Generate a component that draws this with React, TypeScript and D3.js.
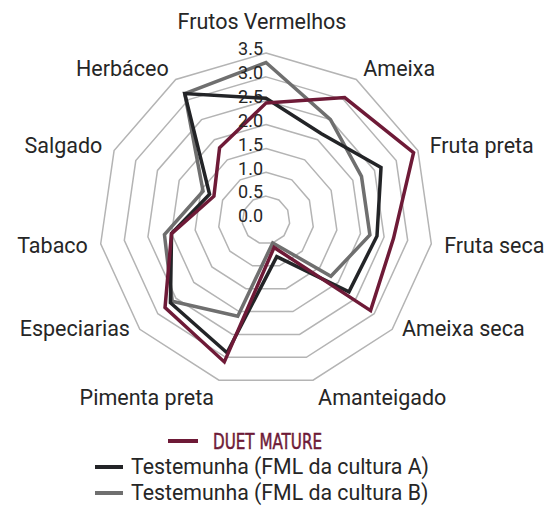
import React, { useRef, useEffect } from "react";
import * as d3 from "d3";

const categories = [
  "Frutos Vermelhos",
  "Ameixa",
  "Fruta preta",
  "Fruta seca",
  "Ameixa seca",
  "Amanteigado",
  "Pimenta preta",
  "Especiarias",
  "Tabaco",
  "Salgado",
  "Herbáceo",
];

const duetMature = [2.45, 3.05, 3.4, 2.7, 2.9, 0.6, 3.1, 2.8, 2.0, 1.2, 1.8];
const testemunhaA = [2.55, 2.15, 2.65, 2.35, 2.3, 0.8, 2.9, 2.65, 2.0, 1.3, 3.15];
const testemunhaB = [3.3, 2.5, 2.2, 2.2, 1.8, 0.5, 2.1, 2.6, 2.15, 1.45, 3.15];

const tickValues = [0, 0.5, 1, 1.5, 2, 2.5, 3, 3.5];

const seriesNames = [
  "DUET MATURE",
  "Testemunha (FML da cultura A)",
  "Testemunha (FML da cultura B)",
];

const App = () => {
  const svgRef = useRef<SVGSVGElement>(null);

  useEffect(() => {
    if (!svgRef.current) return;

    const width = 547;
    const height = 510;
    const cx = 266;
    const cy = 220;
    const font = "Roboto, 'Noto Sans', sans-serif";
    const textColor = "#262626";

    const svg = d3
      .select(svgRef.current)
      .attr("width", width)
      .attr("height", height);

    svg.selectAll("*").remove();

    const r = d3.scaleLinear().domain([0, 3.5]).range([0, 167]);
    const angle = d3
      .scaleLinear()
      .domain([0, categories.length])
      .range([0, 2 * Math.PI]);

    const g = svg.append("g").attr("transform", `translate(${cx},${cy})`);

    // Grid rings
    const ring = d3
      .lineRadial<number>()
      .angle((_, i) => angle(i))
      .radius((d) => r(d))
      .curve(d3.curveLinearClosed);

    tickValues
      .filter((t) => t > 0)
      .forEach((t) => {
        g.append("path")
          .attr("d", ring(categories.map(() => t)))
          .attr("fill", "none")
          .attr("stroke", "#b4b4b4")
          .attr("stroke-width", 1.5);
      });

    // Series
    const series = [
      { name: seriesNames[2], values: testemunhaB, color: "#6f6f6f" },
      { name: seriesNames[1], values: testemunhaA, color: "#232427" },
      { name: seriesNames[0], values: duetMature, color: "#6e1a37" },
    ];

    series.forEach((s) => {
      g.append("path")
        .attr("d", ring(s.values))
        .attr("fill", "none")
        .attr("stroke", s.color)
        .attr("stroke-width", 3.5)
        .attr("stroke-linejoin", "miter");
    });

    // Tick labels
    g.selectAll(".tick-label")
      .data(tickValues)
      .join("text")
      .attr("x", -3)
      .attr("y", (d) => -r(d) - 4)
      .attr("dy", "0.35em")
      .attr("text-anchor", "end")
      .style("font-family", font)
      .style("font-size", "18px")
      .style("fill", textColor)
      .text((d) => d3.format(".1f")(d));

    // Category labels
    categories.forEach((c, i) => {
      const a = angle(i);
      const sin = Math.sin(a);
      const cos = Math.cos(a);
      let rad = 180;
      if (i === 0) rad = 199;
      else if (Math.abs(cos) > 0.9) rad = 185;
      const x = i === 0 ? -4 : sin * rad;
      let y = -cos * rad;
      if (cos < -0.5 && cos > -0.8) y -= 9;
      const anchor = sin > 0.05 ? "start" : sin < -0.05 ? "end" : "middle";
      g.append("text")
        .attr("x", x)
        .attr("y", y)
        .attr("dy", "0.35em")
        .attr("text-anchor", anchor)
        .style("font-family", font)
        .style("font-size", "21.5px")
        .style("fill", textColor)
        .text(c);
    });

    // Legend
    const legend = svg.append("g");
    const rows = [
      { name: seriesNames[0], color: "#6e1a37", x: 168, y: 441, gap: 15 },
      { name: seriesNames[1], color: "#232427", x: 95, y: 467, gap: 8 },
      { name: seriesNames[2], color: "#6f6f6f", x: 95, y: 493, gap: 8 },
    ];
    rows.forEach((row, i) => {
      const lineLen = i === 0 ? 30 : 28;
      legend
        .append("line")
        .attr("x1", row.x)
        .attr("x2", row.x + lineLen)
        .attr("y1", row.y)
        .attr("y2", row.y)
        .attr("stroke", row.color)
        .attr("stroke-width", 4);
      const t = legend
        .append("text")
        .attr("x", row.x + lineLen + row.gap)
        .attr("y", row.y)
        .attr("dy", "0.35em")
        .style("fill", i === 0 ? row.color : textColor)
        .text(row.name);
      if (i === 0) {
        t.style("font-family", "'Liberation Sans Narrow', 'DejaVu Sans Condensed', sans-serif")
          .style("font-size", "22px")
          .style("stroke", row.color)
          .style("stroke-width", 0.5)
          .attr("textLength", 109)
          .attr("lengthAdjust", "spacingAndGlyphs");
      } else {
        t.style("font-family", font).style("font-size", "21.3px");
      }
    });
  }, []);

  return (
    <svg
      ref={svgRef}
      style={{ position: "absolute", left: 0, top: 0, background: "#fff" }}
    ></svg>
  );
};

export default App;
